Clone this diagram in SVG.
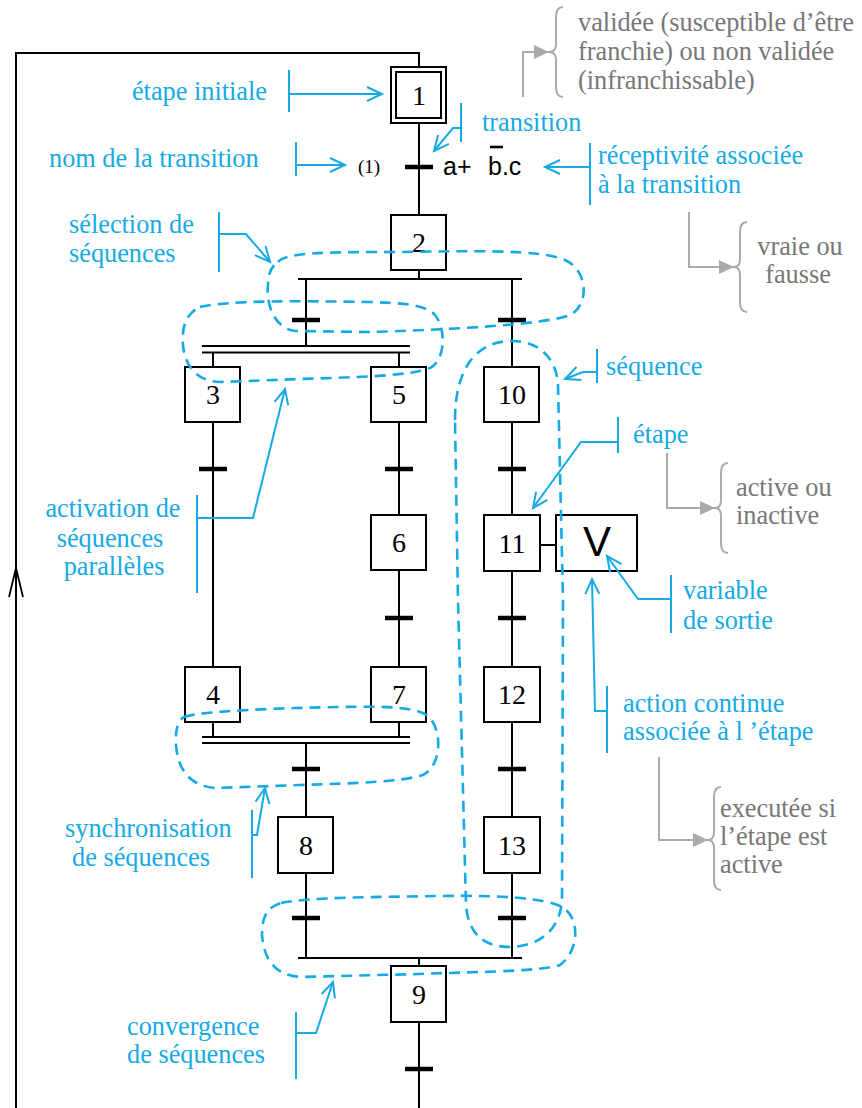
<svg xmlns="http://www.w3.org/2000/svg" width="862" height="1108" viewBox="0 0 862 1108">
  <defs>
    <style>
      .box { fill: #fff; stroke: #000; stroke-width: 2; }
      .num { font-family: "Liberation Serif", "Times New Roman", serif; font-size: 28px; fill: #000; text-anchor: middle; }
      .wire { fill: none; stroke: #000; stroke-width: 2; }
      .bar { fill: none; stroke: #000; stroke-width: 4.5; }
      .dbl { fill: none; stroke: #000; stroke-width: 1.8; }
      .ann { font-family: "Liberation Serif", "Times New Roman", serif; font-size: 26.3px; fill: #15aae6; }
      .note { font-family: "Liberation Serif", "Times New Roman", serif; font-size: 26.3px; fill: #777; }
      .cy { fill: none; stroke: #15aae6; stroke-width: 2; }
      .cyarrow { fill: none; stroke: #15aae6; stroke-width: 2; marker-end: url(#open); }
      .loop { fill: none; stroke: #15aae6; stroke-width: 2.6; stroke-dasharray: 11 7; }
      .gr { fill: none; stroke: #aaa; stroke-width: 2; }
      .grarrow { fill: none; stroke: #aaa; stroke-width: 2; marker-end: url(#solid); }
      .sans { font-family: "Liberation Sans", Arial, sans-serif; fill: #000; }
    </style>
    <marker id="open" markerUnits="userSpaceOnUse" markerWidth="20" markerHeight="20" viewBox="-16 -10 20 20" refX="0" refY="0" orient="auto">
      <path d="M-15,-7 L0,0 L-15,7" fill="none" stroke="#15aae6" stroke-width="2"/>
    </marker>
    <marker id="solid" markerUnits="userSpaceOnUse" markerWidth="20" markerHeight="20" viewBox="-16 -10 20 20" refX="0" refY="0" orient="auto">
      <path d="M-15,-7 L0,0 L-15,7 Z" fill="#aaa"/>
    </marker>
  </defs>

  <rect width="862" height="1108" fill="#fff"/>

  <!-- links, transitions and divergence/convergence bars -->
  <g id="connectors">
    <!-- loop back to the initial step -->
    <path class="wire" d="M16,1108 V53 H419 V67"/>
    <path d="M9,597 L16,568 L23,597" fill="none" stroke="#000" stroke-width="1.8"/>
    <!-- 1 -> 2 -->
    <path class="wire" d="M419,123 V215"/>
    <path class="bar" d="M405,167 H433"/>
    <!-- 2 -> selection -->
    <path class="wire" d="M419,270 V279"/>
    <path class="wire" d="M298,279 H522"/>
    <path class="wire" d="M306,279 V346"/>
    <path class="bar" d="M292,320 H320"/>
    <path class="wire" d="M512,279 V367"/>
    <path class="bar" d="M498,320 H526"/>
    <!-- parallel divergence -->
    <path class="dbl" d="M202,346 H410 M202,352.5 H410"/>
    <path class="wire" d="M213,352 V367 M399,352 V367"/>
    <!-- column 3 / 4 -->
    <path class="wire" d="M213,422 V667"/>
    <path class="bar" d="M199,469 H227"/>
    <!-- column 5 / 6 / 7 -->
    <path class="wire" d="M399,422 V515 M399,570 V667"/>
    <path class="bar" d="M385,469 H413 M385,618 H413"/>
    <!-- column 10 .. 13 -->
    <path class="wire" d="M512,422 V515 M512,570 V667 M512,722 V817 M512,873 V958"/>
    <path class="bar" d="M498,469 H526 M498,618 H526 M498,769 H526 M498,918 H526"/>
    <!-- step 11 to action V -->
    <path class="wire" d="M540,545 H556"/>
    <!-- parallel convergence -->
    <path class="wire" d="M213,722 V737 M399,722 V737"/>
    <path class="dbl" d="M202,737 H410 M202,743 H410"/>
    <path class="wire" d="M306,743 V817 M306,873 V958"/>
    <path class="bar" d="M292,769 H320 M292,918 H320"/>
    <!-- selection convergence -->
    <path class="wire" d="M298,958 H522"/>
    <path class="wire" d="M419,958 V966 M419,1022 V1108"/>
    <path class="bar" d="M405,1069 H433"/>
  </g>

  <!-- steps -->
  <g id="step1">
    <rect class="box" x="391" y="67" width="55" height="56"/>
    <rect class="box" x="396" y="72" width="45" height="46"/>
    <text class="num" x="419" y="105">1</text>
  </g>
  <g id="step2"><rect class="box" x="391" y="215" width="55" height="55"/><text class="num" x="419" y="252">2</text></g>
  <g id="step3"><rect class="box" x="185" y="367" width="55" height="55"/><text class="num" x="213" y="404">3</text></g>
  <g id="step5"><rect class="box" x="371" y="367" width="55" height="55"/><text class="num" x="399" y="404">5</text></g>
  <g id="step10"><rect class="box" x="484" y="367" width="55" height="55"/><text class="num" x="512" y="404">10</text></g>
  <g id="step6"><rect class="box" x="371" y="515" width="55" height="55"/><text class="num" x="399" y="552">6</text></g>
  <g id="step11"><rect class="box" x="484" y="515" width="56" height="56"/><text class="num" x="512" y="553">11</text></g>
  <g id="actionV"><rect class="box" x="556" y="515" width="81" height="56"/><text class="sans" x="597" y="556" font-size="42" text-anchor="middle">V</text></g>
  <g id="step4"><rect class="box" x="185" y="667" width="55" height="55"/><text class="num" x="213" y="704">4</text></g>
  <g id="step7"><rect class="box" x="371" y="667" width="55" height="55"/><text class="num" x="399" y="704">7</text></g>
  <g id="step12"><rect class="box" x="484" y="667" width="56" height="55"/><text class="num" x="512" y="704">12</text></g>
  <g id="step8"><rect class="box" x="278" y="817" width="55" height="56"/><text class="num" x="306" y="855">8</text></g>
  <g id="step13"><rect class="box" x="484" y="817" width="56" height="56"/><text class="num" x="512" y="855">13</text></g>
  <g id="step9"><rect class="box" x="391" y="966" width="55" height="56"/><text class="num" x="419" y="1004">9</text></g>

  <!-- transition name and receptivity -->
  <g id="transition1">
    <text x="358" y="173" font-family="Liberation Serif, serif" font-size="19">(1)</text>
    <text class="sans" x="443" y="175" font-size="25">a+</text>
    <text class="sans" x="488" y="175" font-size="25">b.c</text>
    <path d="M490,147 H503" stroke="#000" stroke-width="2.6"/>
  </g>

  <!-- dashed groupings -->
  <g id="groupings">
    <path class="loop" d="M278,262 C285,252 330,252 400,252 C470,251 540,249 565,260 C588,270 590,305 570,315 C545,325 440,330 370,332 L295,331 C272,328 266,300 268,285 C268,272 272,266 278,262 Z"/>
    <path class="loop" d="M200,307 C230,300 300,301 370,302 C400,303 425,304 435,315 C446,328 446,360 430,368 C410,376 360,377 300,379 L220,382 C195,381 185,365 183,345 C181,325 188,312 200,307 Z"/>
    <path class="loop" d="M455,420 C455,370 475,342 510,341 C540,340 557,360 558,385 L563,600 L562,900 C560,930 540,946 510,947 C480,947 468,930 466,905 L458,600 Z"/>
    <path class="loop" d="M184,717 C200,711 280,708 340,707 C390,706 420,707 430,718 C442,732 442,765 423,775 C400,782 360,783 300,785 L215,788 C190,786 178,770 176,745 C175,730 178,720 184,717 Z"/>
    <path class="loop" d="M281,903 C310,897 380,897 440,896 C500,895 545,898 562,907 C580,917 580,950 560,965 C540,972 460,972 420,974 L300,977 C275,975 264,960 262,935 C262,915 268,907 281,903 Z"/>
  </g>

  <!-- cyan callouts -->
  <g id="callouts">
    <path class="cy" d="M289,70 V112"/><path class="cyarrow" d="M289,94 H382"/>
    <text class="ann" x="267" y="100" text-anchor="end">étape initiale</text>

    <path class="cy" d="M296,142 V176"/><path class="cyarrow" d="M296,165 H345"/>
    <text class="ann" x="49" y="167">nom de la transition</text>

    <path class="cy" d="M461,103 V142"/><path class="cyarrow" d="M461,128 H453 L434,151"/>
    <text class="ann" x="482" y="131">transition</text>

    <path class="cy" d="M590,143 V205"/><path class="cyarrow" d="M590,167 H545"/>
    <text class="ann" x="598" y="164">réceptivité associée</text>
    <text class="ann" x="598" y="193">à la transition</text>

    <path class="cy" d="M219,212 V272"/><path class="cyarrow" d="M219,234 H246 L270,262"/>
    <text class="ann" x="69" y="233">sélection de</text>
    <text class="ann" x="69" y="262">séquences</text>

    <path class="cy" d="M197,495 V593"/><path class="cyarrow" d="M197,518 H253 L285,389"/>
    <text class="ann" x="113" y="517" text-anchor="middle">activation de</text>
    <text class="ann" x="110" y="547" text-anchor="middle">séquences</text>
    <text class="ann" x="114" y="575" text-anchor="middle">parallèles</text>

    <path class="cy" d="M597,349 V383"/><path class="cyarrow" d="M597,372 H583 L565,379"/>
    <text class="ann" x="606" y="375">séquence</text>

    <path class="cy" d="M618,417 V453"/><path class="cyarrow" d="M618,442 H581 L533,508"/>
    <text class="ann" x="633" y="443">étape</text>

    <path class="cy" d="M671,575 V633"/><path class="cyarrow" d="M671,599 H638 L607,556"/>
    <text class="ann" x="683" y="599">variable</text>
    <text class="ann" x="683" y="629">de sortie</text>

    <path class="cy" d="M607,686 V753"/><path class="cyarrow" d="M607,711 H595 L592,579"/>
    <text class="ann" x="623" y="712">action continue</text>
    <text class="ann" x="623" y="740">associée à l ’étape</text>

    <path class="cy" d="M252,810 V878"/><path class="cyarrow" d="M252,835 H257 L265,788"/>
    <text class="ann" x="65" y="837">synchronisation</text>
    <text class="ann" x="72" y="866">de séquences</text>

    <path class="cy" d="M296,1012 V1079"/><path class="cyarrow" d="M296,1033 H316 L333,982"/>
    <text class="ann" x="127" y="1035">convergence</text>
    <text class="ann" x="127" y="1063">de séquences</text>
  </g>

  <!-- grey remarks with braces -->
  <g id="remarks">
    <path class="grarrow" d="M523,97 V52 H549"/>
    <path class="gr" d="M563,7 Q556,7 556,17 L556,44 Q556,52 549,52 Q556,52 556,60 L556,87 Q556,97 563,97"/>
    <text class="note" x="578" y="31">validée (susceptible d’être</text>
    <text class="note" x="578" y="60">franchie) ou non validée</text>
    <text class="note" x="578" y="89">(infranchissable)</text>

    <path class="grarrow" d="M689,212 V267 H734"/>
    <path class="gr" d="M747,222 Q740,222 740,232 L740,259 Q740,267 734,267 Q740,267 740,275 L740,302 Q740,312 747,312"/>
    <text class="note" x="800" y="255" text-anchor="middle">vraie ou</text>
    <text class="note" x="798" y="283" text-anchor="middle">fausse</text>

    <path class="grarrow" d="M667,453 V508 H715"/>
    <path class="gr" d="M728,463 Q721,463 721,473 L721,500 Q721,508 715,508 Q721,508 721,516 L721,543 Q721,553 728,553"/>
    <text class="note" x="736" y="496">active ou</text>
    <text class="note" x="736" y="524">inactive</text>

    <path class="grarrow" d="M659,757 V840 H708"/>
    <path class="gr" d="M721,787 Q714,787 714,797 L714,832 Q714,840 708,840 Q714,840 714,848 L714,880 Q714,890 721,890"/>
    <text class="note" x="720" y="817">executée si</text>
    <text class="note" x="720" y="845">l’étape est</text>
    <text class="note" x="720" y="873">active</text>
  </g>
</svg>
